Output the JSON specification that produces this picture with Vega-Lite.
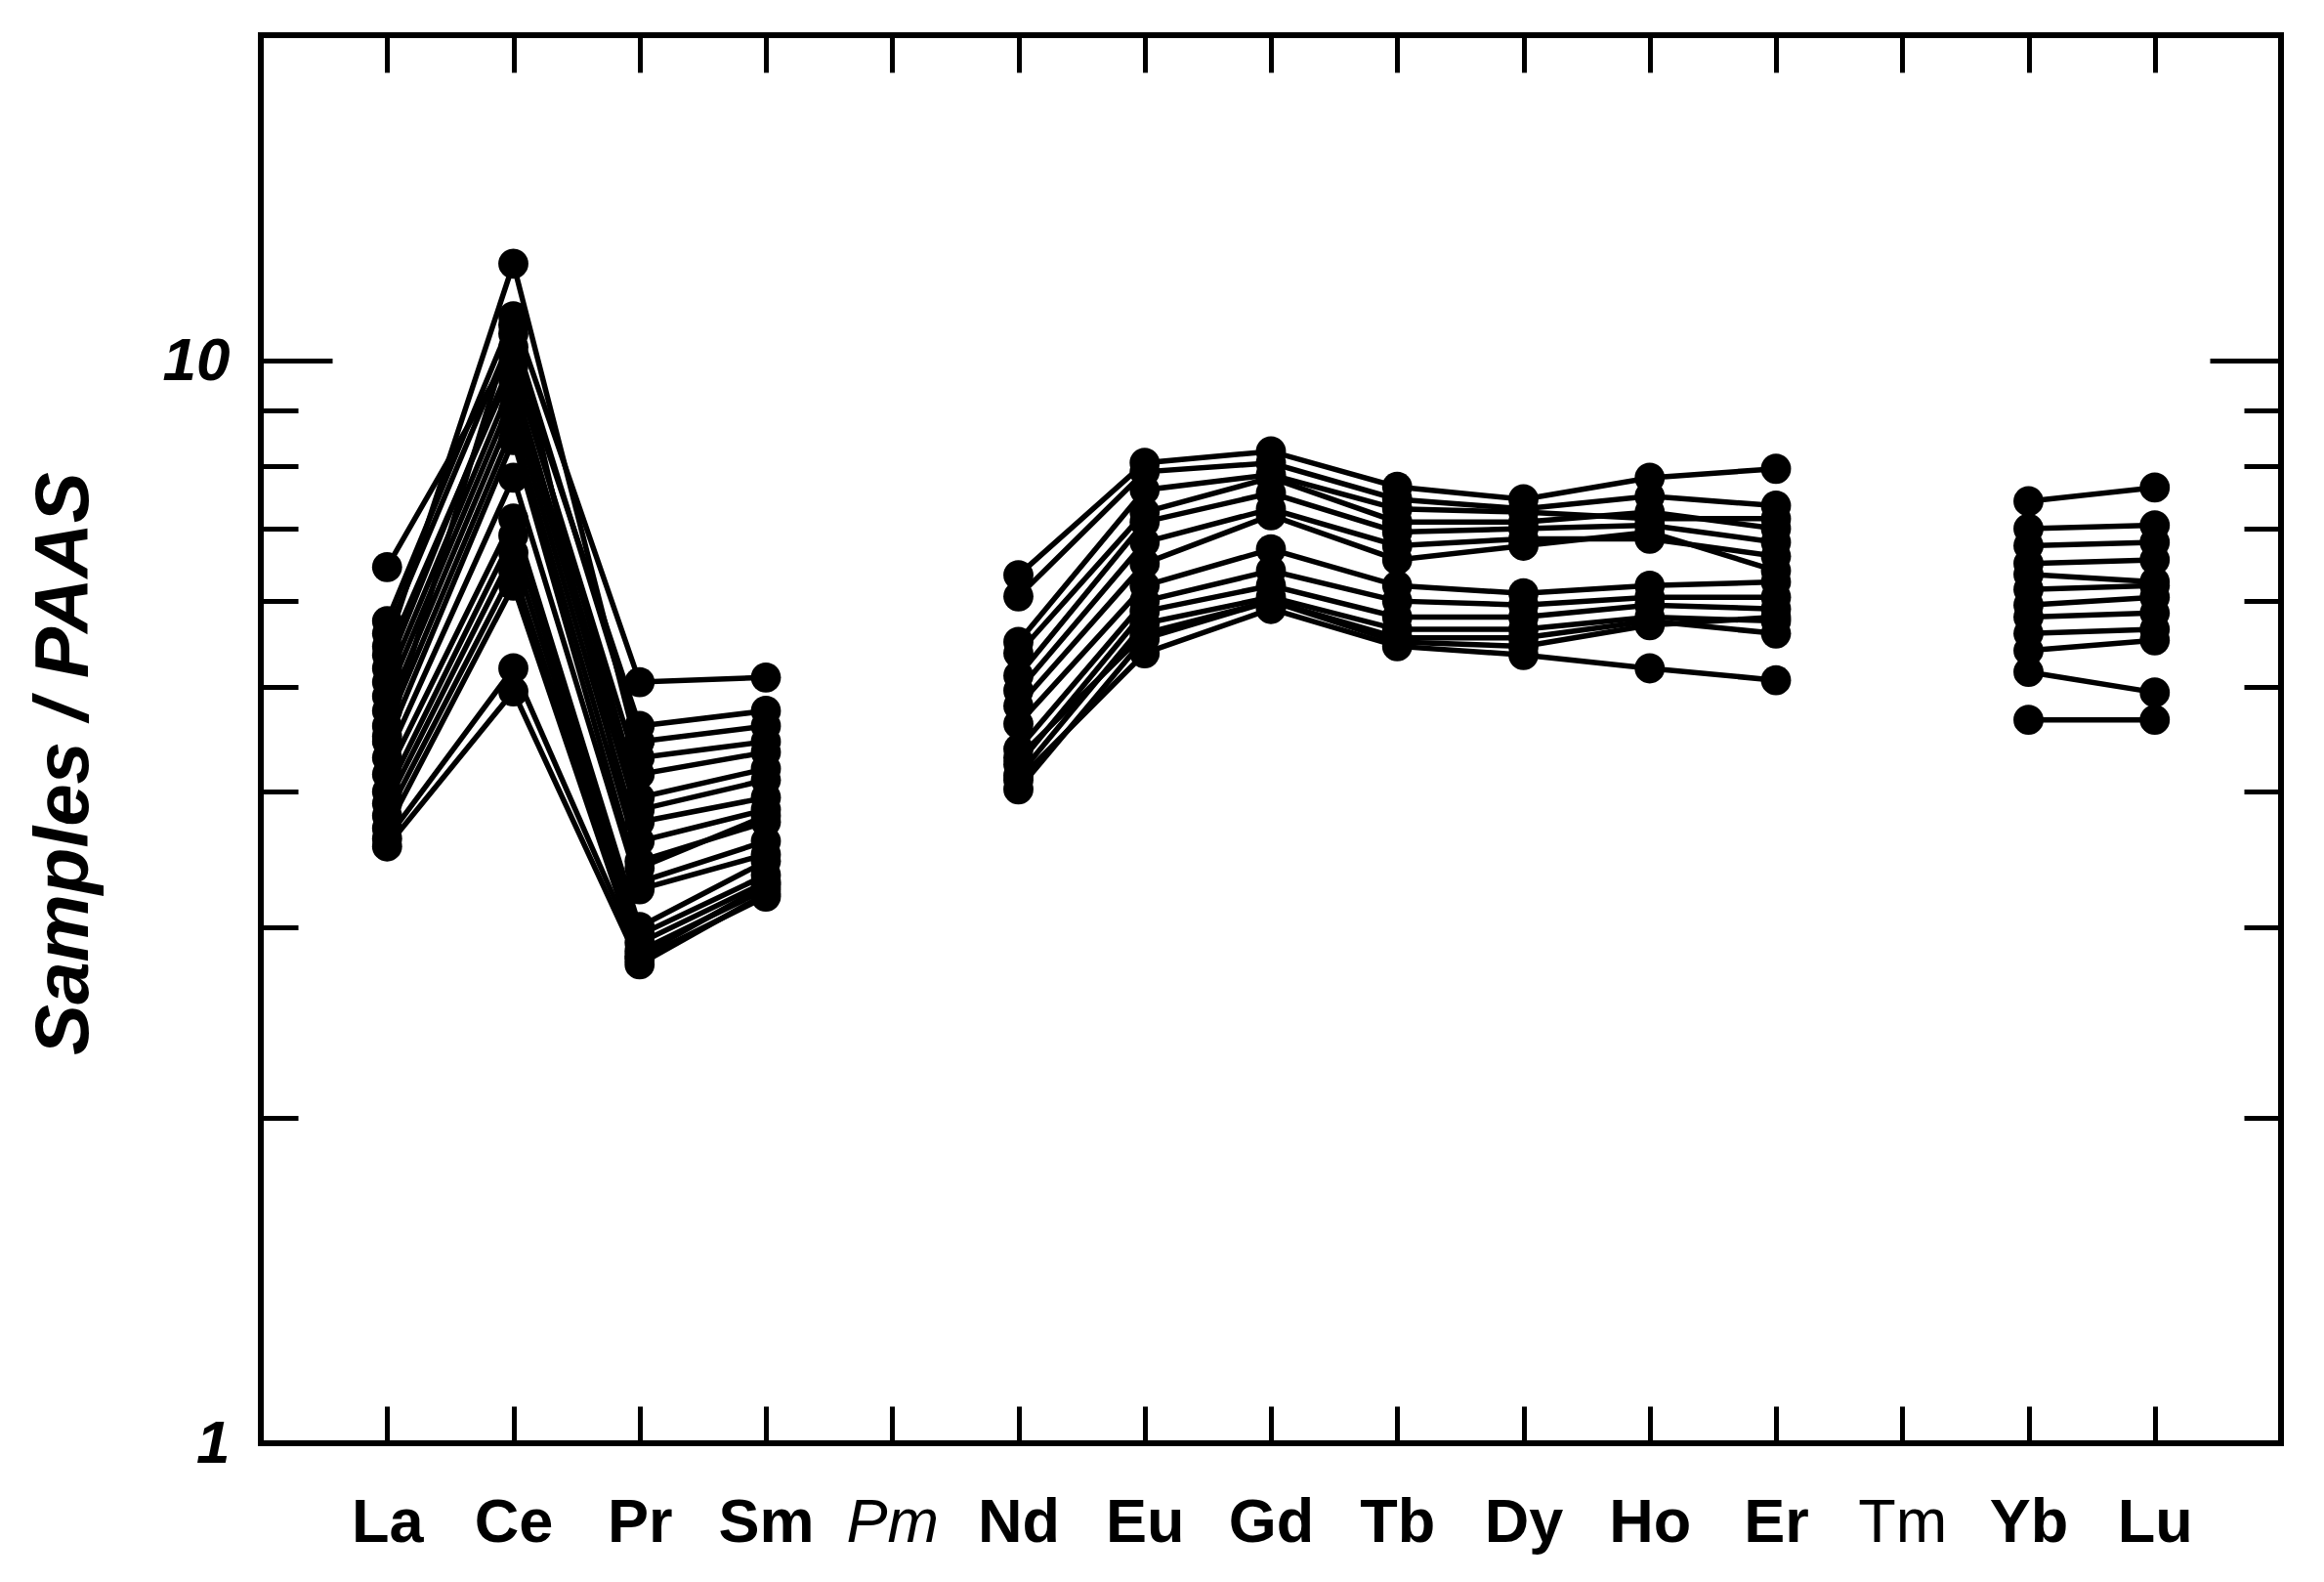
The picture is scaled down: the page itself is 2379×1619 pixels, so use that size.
{
  "$schema": "https://vega.github.io/schema/vega-lite/v6.json",
  "width": 2068,
  "height": 1441,
  "autosize": "none",
  "padding": {"left": 267, "top": 36, "right": 44, "bottom": 142},
  "background": "white",
  "config": {"view": {"stroke": "black", "strokeWidth": 6}, "font": "Liberation Sans"},
  "data": {"values": [
    {"s":"a1","e":"La","v":6.45},{"s":"a1","e":"Ce","v":10.3},{"s":"a1","e":"Pr","v":4.6},{"s":"a1","e":"Sm","v":4.75},
    {"s":"a2","e":"La","v":5.75},{"s":"a2","e":"Ce","v":11.0},{"s":"a2","e":"Pr","v":5.05},{"s":"a2","e":"Sm","v":5.1},
    {"s":"a3","e":"La","v":5.6},{"s":"a3","e":"Ce","v":10.6},{"s":"a3","e":"Pr","v":4.45},{"s":"a3","e":"Sm","v":4.6},
    {"s":"a4","e":"La","v":5.45},{"s":"a4","e":"Ce","v":12.3},{"s":"a4","e":"Pr","v":4.3},{"s":"a4","e":"Sm","v":4.45},
    {"s":"a5","e":"La","v":5.35},{"s":"a5","e":"Ce","v":9.9},{"s":"a5","e":"Pr","v":4.15},{"s":"a5","e":"Sm","v":4.35},
    {"s":"a6","e":"La","v":5.2},{"s":"a6","e":"Ce","v":10.1},{"s":"a6","e":"Pr","v":3.95},{"s":"a6","e":"Sm","v":4.2},
    {"s":"a7","e":"La","v":5.05},{"s":"a7","e":"Ce","v":9.6},{"s":"a7","e":"Pr","v":3.85},{"s":"a7","e":"Sm","v":4.1},
    {"s":"a8","e":"La","v":4.9},{"s":"a8","e":"Ce","v":9.3},{"s":"a8","e":"Pr","v":3.75},{"s":"a8","e":"Sm","v":3.95},
    {"s":"a9","e":"La","v":4.75},{"s":"a9","e":"Ce","v":9.0},{"s":"a9","e":"Pr","v":3.6},{"s":"a9","e":"Sm","v":3.85},
    {"s":"a10","e":"La","v":4.6},{"s":"a10","e":"Ce","v":8.7},{"s":"a10","e":"Pr","v":3.45},{"s":"a10","e":"Sm","v":3.75},
    {"s":"a11","e":"La","v":4.45},{"s":"a11","e":"Ce","v":8.45},{"s":"a11","e":"Pr","v":3.3},{"s":"a11","e":"Sm","v":3.6},
    {"s":"a12","e":"La","v":4.3},{"s":"a12","e":"Ce","v":7.8},{"s":"a12","e":"Pr","v":3.25},{"s":"a12","e":"Sm","v":3.5},
    {"s":"a13","e":"La","v":4.15},{"s":"a13","e":"Ce","v":7.15},{"s":"a13","e":"Pr","v":3.0},{"s":"a13","e":"Sm","v":3.45},
    {"s":"a14","e":"La","v":4.0},{"s":"a14","e":"Ce","v":6.9},{"s":"a14","e":"Pr","v":2.95},{"s":"a14","e":"Sm","v":3.35},
    {"s":"a15","e":"La","v":3.9},{"s":"a15","e":"Ce","v":6.65},{"s":"a15","e":"Pr","v":2.9},{"s":"a15","e":"Sm","v":3.3},
    {"s":"a16","e":"La","v":3.8},{"s":"a16","e":"Ce","v":6.4},{"s":"a16","e":"Pr","v":2.85},{"s":"a16","e":"Sm","v":3.25},
    {"s":"a17","e":"La","v":3.7},{"s":"a17","e":"Ce","v":6.2},{"s":"a17","e":"Pr","v":2.8},{"s":"a17","e":"Sm","v":3.2},
    {"s":"a18","e":"La","v":3.62},{"s":"a18","e":"Ce","v":5.2},{"s":"a18","e":"Pr","v":2.82},{"s":"a18","e":"Sm","v":3.28},
    {"s":"a19","e":"La","v":3.56},{"s":"a19","e":"Ce","v":4.95},{"s":"a19","e":"Pr","v":2.77},{"s":"a19","e":"Sm","v":3.22},
    {"s":"a20","e":"La","v":4.5},{"s":"a20","e":"Ce","v":10.8},{"s":"a20","e":"Pr","v":3.4},{"s":"a20","e":"Sm","v":3.8},
    {"s":"b1","e":"Nd","v":6.34},{"s":"b1","e":"Eu","v":8.05},{"s":"b1","e":"Gd","v":8.25},{"s":"b1","e":"Tb","v":7.65},{"s":"b1","e":"Dy","v":7.45},{"s":"b1","e":"Ho","v":7.8},{"s":"b1","e":"Er","v":7.95},
    {"s":"b2","e":"Nd","v":6.06},{"s":"b2","e":"Eu","v":7.9},{"s":"b2","e":"Gd","v":8.05},{"s":"b2","e":"Tb","v":7.45},{"s":"b2","e":"Dy","v":7.3},{"s":"b2","e":"Ho","v":7.5},{"s":"b2","e":"Er","v":7.35},
    {"s":"b3","e":"Nd","v":5.5},{"s":"b3","e":"Eu","v":7.6},{"s":"b3","e":"Gd","v":7.85},{"s":"b3","e":"Tb","v":7.3},{"s":"b3","e":"Dy","v":7.25},{"s":"b3","e":"Ho","v":7.15},{"s":"b3","e":"Er","v":7.15},
    {"s":"b4","e":"Nd","v":5.37},{"s":"b4","e":"Eu","v":7.25},{"s":"b4","e":"Gd","v":7.8},{"s":"b4","e":"Tb","v":7.1},{"s":"b4","e":"Dy","v":7.1},{"s":"b4","e":"Ho","v":7.25},{"s":"b4","e":"Er","v":7.0},
    {"s":"b5","e":"Nd","v":5.12},{"s":"b5","e":"Eu","v":7.1},{"s":"b5","e":"Gd","v":7.55},{"s":"b5","e":"Tb","v":6.95},{"s":"b5","e":"Dy","v":7.0},{"s":"b5","e":"Ho","v":7.05},{"s":"b5","e":"Er","v":6.8},
    {"s":"b6","e":"Nd","v":4.96},{"s":"b6","e":"Eu","v":6.8},{"s":"b6","e":"Gd","v":7.3},{"s":"b6","e":"Tb","v":6.75},{"s":"b6","e":"Dy","v":6.85},{"s":"b6","e":"Ho","v":6.85},{"s":"b6","e":"Er","v":6.6},
    {"s":"b7","e":"Nd","v":4.8},{"s":"b7","e":"Eu","v":6.5},{"s":"b7","e":"Gd","v":7.2},{"s":"b7","e":"Tb","v":6.55},{"s":"b7","e":"Dy","v":6.75},{"s":"b7","e":"Ho","v":6.95},{"s":"b7","e":"Er","v":6.4},
    {"s":"b8","e":"Nd","v":4.62},{"s":"b8","e":"Eu","v":6.2},{"s":"b8","e":"Gd","v":6.7},{"s":"b8","e":"Tb","v":6.2},{"s":"b8","e":"Dy","v":6.1},{"s":"b8","e":"Ho","v":6.2},{"s":"b8","e":"Er","v":6.25},
    {"s":"b9","e":"Nd","v":4.38},{"s":"b9","e":"Eu","v":6.0},{"s":"b9","e":"Gd","v":6.4},{"s":"b9","e":"Tb","v":6.0},{"s":"b9","e":"Dy","v":5.95},{"s":"b9","e":"Ho","v":6.05},{"s":"b9","e":"Er","v":6.05},
    {"s":"b10","e":"Nd","v":4.24},{"s":"b10","e":"Eu","v":5.87},{"s":"b10","e":"Gd","v":6.2},{"s":"b10","e":"Tb","v":5.8},{"s":"b10","e":"Dy","v":5.8},{"s":"b10","e":"Ho","v":5.95},{"s":"b10","e":"Er","v":5.9},
    {"s":"b11","e":"Nd","v":4.14},{"s":"b11","e":"Eu","v":5.72},{"s":"b11","e":"Gd","v":6.05},{"s":"b11","e":"Tb","v":5.65},{"s":"b11","e":"Dy","v":5.65},{"s":"b11","e":"Ho","v":5.8},{"s":"b11","e":"Er","v":5.75},
    {"s":"b12","e":"Nd","v":4.02},{"s":"b12","e":"Eu","v":5.54},{"s":"b12","e":"Gd","v":6.0},{"s":"b12","e":"Tb","v":5.55},{"s":"b12","e":"Dy","v":5.55},{"s":"b12","e":"Ho","v":5.75},{"s":"b12","e":"Er","v":5.6},
    {"s":"b13","e":"Nd","v":4.1},{"s":"b13","e":"Eu","v":5.37},{"s":"b13","e":"Gd","v":5.9},{"s":"b13","e":"Tb","v":5.45},{"s":"b13","e":"Dy","v":5.35},{"s":"b13","e":"Ho","v":5.2},{"s":"b13","e":"Er","v":5.07},
    {"s":"b14","e":"Nd","v":4.3},{"s":"b14","e":"Eu","v":5.6},{"s":"b14","e":"Gd","v":6.0},{"s":"b14","e":"Tb","v":5.5},{"s":"b14","e":"Dy","v":5.45},{"s":"b14","e":"Ho","v":5.7},{"s":"b14","e":"Er","v":5.8},
    {"s":"c1","e":"Yb","v":7.42},{"s":"c1","e":"Lu","v":7.64},
    {"s":"c2","e":"Yb","v":7.0},{"s":"c2","e":"Lu","v":7.05},
    {"s":"c3","e":"Yb","v":6.75},{"s":"c3","e":"Lu","v":6.8},
    {"s":"c4","e":"Yb","v":6.5},{"s":"c4","e":"Lu","v":6.55},
    {"s":"c5","e":"Yb","v":6.35},{"s":"c5","e":"Lu","v":6.25},
    {"s":"c6","e":"Yb","v":6.15},{"s":"c6","e":"Lu","v":6.2},
    {"s":"c7","e":"Yb","v":5.95},{"s":"c7","e":"Lu","v":6.05},
    {"s":"c8","e":"Yb","v":5.8},{"s":"c8","e":"Lu","v":5.85},
    {"s":"c9","e":"Yb","v":5.6},{"s":"c9","e":"Lu","v":5.65},
    {"s":"c10","e":"Yb","v":5.4},{"s":"c10","e":"Lu","v":5.52},
    {"s":"c11","e":"Yb","v":5.16},{"s":"c11","e":"Lu","v":4.94},
    {"s":"c12","e":"Yb","v":4.66},{"s":"c12","e":"Lu","v":4.66}
  ]},
  "layer": [
    {
      "mark": {"type": "line", "color": "black", "strokeWidth": 5.5},
      "encoding": {
        "x": {"field": "e", "type": "ordinal",
          "sort": ["La","Ce","Pr","Sm","Pm","Nd","Eu","Gd","Tb","Dy","Ho","Er","Tm","Yb","Lu"],
          "scale": {"type": "point", "padding": 1, "domain": ["La","Ce","Pr","Sm","Pm","Nd","Eu","Gd","Tb","Dy","Ho","Er","Tm","Yb","Lu"]},
          "axis": {"orient": "bottom", "title": null, "domain": false, "grid": false,
            "tickSize": -38, "tickWidth": 5, "tickColor": "black",
            "labelPadding": 88, "labelAngle": 0, "labelFontSize": 63, "labelColor": "black",
            "labelFont": "Liberation Sans", "labelBaseline": "top",
            "labelFontWeight": {"condition": {"test": "datum.value === 'Pm' || datum.value === 'Tm'", "value": "normal"}, "value": "bold"},
            "labelFontStyle": {"condition": {"test": "datum.value === 'Pm'", "value": "italic"}, "value": "normal"}}},
        "y": {"field": "v", "type": "quantitative",
          "scale": {"type": "log", "domain": [1, 20], "nice": false},
          "axis": {"orient": "left", "title": "Samples / PAAS",
            "titleFont": "Liberation Sans", "titleFontSize": 78, "titleFontWeight": "bold", "titleFontStyle": "italic", "titleColor": "black",
            "titleX": -162, "titleY": 745, "titleAngle": -90, "titleBaseline": "bottom", "titleAlign": "center",
            "domain": false, "grid": false,
            "values": [1,2,3,4,5,6,7,8,9,10],
            "tickSize": {"condition": {"test": "datum.value === 1 || datum.value === 10", "value": -73}, "value": -38},
            "tickWidth": 5, "tickColor": "black",
            "format": "d",
            "labelExpr": "datum.value === 1 || datum.value === 10 ? datum.label : ''",
            "labelPadding": 105, "labelFontSize": 62, "labelFontWeight": "bold", "labelFontStyle": "italic",
            "labelColor": "black", "labelFont": "Liberation Sans"}},
        "detail": {"field": "s"},
        "order": {"value": null}
      }
    },
    {
      "mark": {"type": "point", "filled": true, "shape": "circle", "size": 950, "color": "black", "opacity": 1},
      "encoding": {
        "x": {"field": "e", "type": "ordinal",
          "sort": ["La","Ce","Pr","Sm","Pm","Nd","Eu","Gd","Tb","Dy","Ho","Er","Tm","Yb","Lu"],
          "scale": {"type": "point", "padding": 1, "domain": ["La","Ce","Pr","Sm","Pm","Nd","Eu","Gd","Tb","Dy","Ho","Er","Tm","Yb","Lu"]},
          "axis": {"orient": "top", "title": null, "domain": false, "grid": false, "labels": false,
            "tickSize": -38, "tickWidth": 5, "tickColor": "black"}},
        "y": {"field": "v", "type": "quantitative",
          "scale": {"type": "log", "domain": [1, 20], "nice": false},
          "axis": {"orient": "right", "title": null, "domain": false, "grid": false, "labels": false,
            "values": [1,2,3,4,5,6,7,8,9,10],
            "tickSize": {"condition": {"test": "datum.value === 1 || datum.value === 10", "value": -73}, "value": -38},
            "tickWidth": 5, "tickColor": "black"}}
      }
    }
  ],
  "resolve": {"axis": {"x": "independent", "y": "independent"}}
}
